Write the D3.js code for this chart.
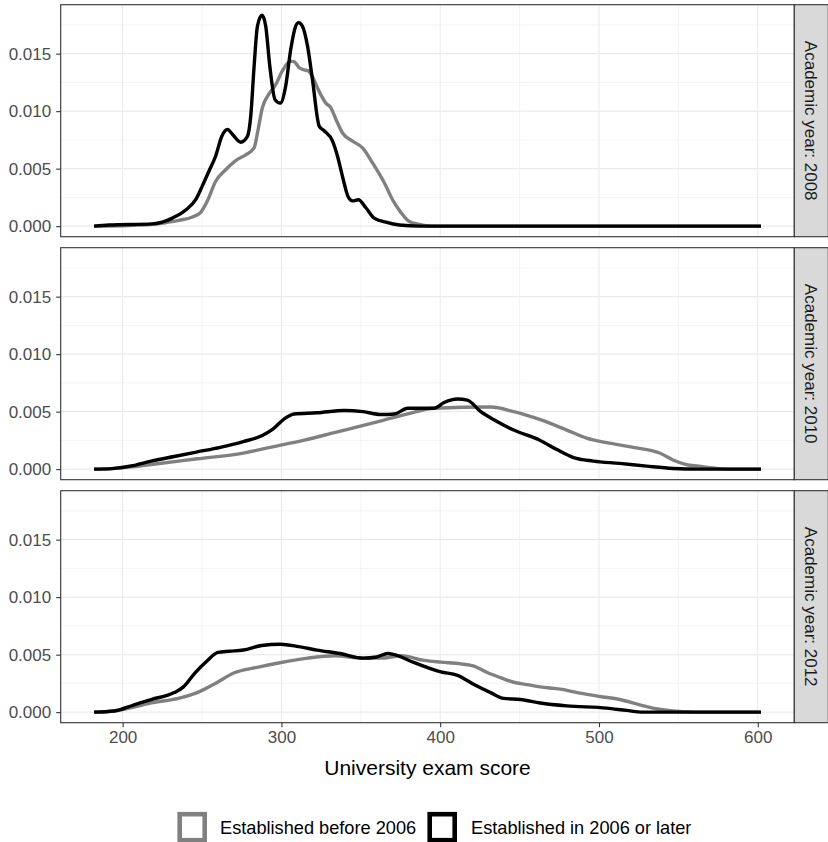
<!DOCTYPE html>
<html>
<head>
<meta charset="utf-8">
<script src="https://cdn.jsdelivr.net/npm/d3@7"></script>
<style>
  html, body { margin: 0; padding: 0; background: #fff; }
  svg { display: block; }
  text { font-family: "Liberation Sans", Arial, sans-serif; }
</style>
</head>
<body>
<div id="chart"></div>
<script>
// ---------------- DATA ----------------
const panelLabels = ["Academic year: 2008", "Academic year: 2010", "Academic year: 2012"];
const seriesNames = ["Established before 2006", "Established in 2006 or later"];
const xTicks = [200, 300, 400, 500, 600];
const xMinorTicks = [250, 350, 450, 550];
const yTicks = [0, 0.005, 0.010, 0.015];
const yMinorTicks = [0.0025, 0.0075, 0.0125, 0.0175];

// [score, density]
const before2008 = [[182,0],[200,0.00003],[218.7,0.00015],[227,0.0003],[235.5,0.0005],[244,0.0008],[249.2,0.0012],[253.4,0.0022],[258.6,0.0039],[264.9,0.0049],[271.2,0.0057],[277.5,0.0062],[282.8,0.0068],[284.9,0.0081],[288,0.0103],[292.2,0.0115],[296.4,0.0123],[300.6,0.0135],[305.6,0.01435],[308,0.0143],[311.1,0.0138],[314,0.0136],[317,0.0135],[319.5,0.013],[323.8,0.0117],[328,0.0107],[331.1,0.0103],[334.3,0.0093],[338.5,0.0081],[344.8,0.0074],[351.1,0.0068],[357.4,0.0055],[364.7,0.0038],[370,0.0023],[375.2,0.0012],[380.5,0.0004],[386.8,0.00015],[394,0],[602,0]];
const later2008 = [[182,0],[191.4,0.0001],[218.7,0.0002],[225,0.00035],[231.3,0.0007],[239.7,0.0014],[246,0.0023],[250.2,0.0035],[254.4,0.0048],[258.6,0.0061],[262.4,0.0078],[266,0.0084],[269.1,0.008],[274.4,0.0073],[278.6,0.0078],[280.7,0.0096],[282.8,0.0139],[284.9,0.0174],[287.8,0.01834],[290.1,0.0174],[292.7,0.0139],[296,0.011],[299.3,0.0107],[302.7,0.0122],[305.9,0.0154],[309,0.0174],[310.8,0.0177],[313.2,0.0174],[316.4,0.0157],[319.5,0.0128],[323.8,0.0087],[326.9,0.0083],[332.2,0.0074],[335.3,0.0061],[338.5,0.0043],[342.2,0.0025],[344.8,0.0022],[348.5,0.0023],[353.2,0.0016],[358.4,0.0007],[365.8,0.00035],[374.2,0.0001],[386.8,0],[602,0]];

const before2010 = [[182,0],[193,0.00005],[206,0.0002],[218,0.0004],[247,0.0009],[276,0.0014],[293,0.0019],[313.7,0.0025],[334,0.0032],[362.8,0.0042],[379.5,0.0048],[396,0.0053],[431.7,0.0054],[446.3,0.005],[463,0.0043],[479.7,0.0034],[492.2,0.0027],[504.8,0.0023],[521.5,0.0019],[538.2,0.0014],[546.6,0.0008],[555,0.0004],[563,0.00026],[572,0.0001],[582,0],[602,0]];
const later2010 = [[182,0],[193.3,0.00005],[206.4,0.0003],[218,0.0007],[232.5,0.0011],[247,0.0015],[261.5,0.0019],[276,0.0024],[287.6,0.0029],[294.8,0.0035],[302,0.0044],[308,0.0048],[322.4,0.0049],[339.8,0.0051],[351.4,0.005],[362.8,0.00475],[371.2,0.0048],[379.5,0.0053],[396.2,0.0053],[402.5,0.0058],[410.9,0.0061],[417.1,0.006],[425.5,0.005],[433.8,0.0043],[446.3,0.0034],[463,0.0025],[473.5,0.0017],[484,0.001],[496.5,0.0007],[513,0.0005],[530,0.00026],[546.6,0.00006],[563,0],[602,0]];

const before2012 = [[182,0],[195,0.0001],[206,0.0004],[218,0.0008],[235,0.0012],[247,0.0017],[258.4,0.0025],[270,0.0034],[284.7,0.0039],[299,0.0043],[316.6,0.0047],[334,0.0049],[351.4,0.0047],[362.8,0.0047],[375.4,0.0049],[390,0.0045],[400.4,0.00435],[413,0.0042],[421.3,0.004],[429.6,0.00345],[438,0.003],[446.3,0.0026],[454.7,0.0024],[463,0.0022],[475.6,0.002],[488,0.00165],[500.6,0.00136],[513,0.0011],[525.7,0.00064],[536,0.0003],[546.6,0.0001],[552.8,0.00005],[560,0],[602,0]];
const later2012 = [[182,0],[194.8,0.0001],[206.4,0.0006],[218,0.0011],[232.5,0.0017],[238.3,0.0022],[245.5,0.0034],[252.8,0.0044],[260,0.0052],[267.3,0.0053],[276,0.0054],[287.6,0.0058],[299.2,0.0059],[310.8,0.0057],[322.4,0.0054],[336.9,0.0051],[351.4,0.0047],[360,0.0048],[367,0.0051],[371.2,0.005],[383.7,0.0043],[400.4,0.0035],[410.9,0.0032],[421.3,0.0024],[431.7,0.0017],[440,0.0012],[450.5,0.0011],[463,0.0008],[479.7,0.00055],[504.8,0.00035],[517.3,0.00015],[527.7,0],[602,0]];

const panelData = [
  [before2008, later2008],
  [before2010, later2010],
  [before2012, later2012]
];
const seriesColors = ["#808080", "#000000"];

// ---------------- LAYOUT ----------------
const W = 828, H = 842;
const panelLeft = 60.7, panelRight = 794.3;
const panelTops = [4.7, 247.7, 490.7];
const panelH = 232;
const stripW = 34;

const svg = d3.select("#chart").append("svg")
  .attr("width", W).attr("height", H);

// shared scales
const allX = panelData.flat(2).map(d => d[0]);
const allY = panelData.flat(2).map(d => d[1]);
const xMin = d3.min(allX), xMax = d3.max(allX);
const xPad = (xMax - xMin) * 0.05;
const x = d3.scaleLinear().domain([xMin - xPad, xMax + xPad]).range([panelLeft, panelRight]);
const yMaxV = d3.max(allY);
const yPad = yMaxV * 0.05;

panelData.forEach((series, i) => {
  const top = panelTops[i];
  const y = d3.scaleLinear().domain([0 - yPad, yMaxV + yPad]).range([top + panelH, top]);
  const g = svg.append("g");

  g.append("rect").attr("x", panelLeft).attr("y", top)
    .attr("width", panelRight - panelLeft).attr("height", panelH).attr("fill", "#fff");

  // minor grid
  g.selectAll(".xminor").data(xMinorTicks).enter().append("line")
    .attr("x1", d => x(d)).attr("x2", d => x(d)).attr("y1", top).attr("y2", top + panelH)
    .attr("stroke", "#EBEBEB").attr("stroke-width", 0.6);
  g.selectAll(".yminor").data(yMinorTicks).enter().append("line")
    .attr("x1", panelLeft).attr("x2", panelRight).attr("y1", d => y(d)).attr("y2", d => y(d))
    .attr("stroke", "#EBEBEB").attr("stroke-width", 0.6);
  // major grid
  g.selectAll(".xmajor").data(xTicks).enter().append("line")
    .attr("x1", d => x(d)).attr("x2", d => x(d)).attr("y1", top).attr("y2", top + panelH)
    .attr("stroke", "#EBEBEB").attr("stroke-width", 1.1);
  g.selectAll(".ymajor").data(yTicks).enter().append("line")
    .attr("x1", panelLeft).attr("x2", panelRight).attr("y1", d => y(d)).attr("y2", d => y(d))
    .attr("stroke", "#EBEBEB").attr("stroke-width", 1.1);

  // lines
  const line = d3.line().x(d => x(d[0])).y(d => y(d[1])).curve(d3.curveMonotoneX);
  series.forEach((s, j) => {
    g.append("path").datum(s).attr("d", line)
      .attr("fill", "none").attr("stroke", seriesColors[j])
      .attr("stroke-width", 3.4).attr("stroke-linejoin", "round").attr("stroke-linecap", "butt");
  });

  // panel border
  g.append("rect").attr("x", panelLeft).attr("y", top)
    .attr("width", panelRight - panelLeft).attr("height", panelH)
    .attr("fill", "none").attr("stroke", "#333333").attr("stroke-width", 1.1);

  // y axis
  const yAxis = d3.axisLeft(y).tickValues(yTicks).tickFormat(d3.format(".3f")).tickSize(4.5).tickPadding(5);
  const ya = g.append("g").attr("transform", `translate(${panelLeft},0)`).call(yAxis);
  ya.select(".domain").remove();
  ya.selectAll(".tick line").attr("stroke", "#333333").attr("stroke-width", 1.1);
  ya.selectAll(".tick text").attr("fill", "#4D4D4D").style("font-size", "17px")
    .style("font-family", '"Liberation Sans", Arial, sans-serif');

  // strip
  g.append("rect").attr("x", panelRight).attr("y", top)
    .attr("width", stripW).attr("height", panelH)
    .attr("fill", "#D9D9D9").attr("stroke", "#333333").attr("stroke-width", 1.1);
  g.append("text")
    .attr("transform", `translate(${panelRight + stripW / 2},${top + panelH / 2}) rotate(90)`)
    .attr("text-anchor", "middle").attr("dy", "0.35em")
    .attr("fill", "#1A1A1A").style("font-size", "17px")
    .text(panelLabels[i]);

  if (i === panelData.length - 1) {
    const xAxis = d3.axisBottom(x).tickValues(xTicks).tickFormat(d3.format("d")).tickSize(4.5).tickPadding(4);
    const xa = g.append("g").attr("transform", `translate(0,${top + panelH})`).call(xAxis);
    xa.select(".domain").remove();
    xa.selectAll(".tick line").attr("stroke", "#333333").attr("stroke-width", 1.1);
    xa.selectAll(".tick text").attr("fill", "#4D4D4D").style("font-size", "17px")
      .style("font-family", '"Liberation Sans", Arial, sans-serif');
  }
});

// x axis title
svg.append("text")
  .attr("x", (panelLeft + panelRight) / 2).attr("y", 775)
  .attr("text-anchor", "middle").attr("fill", "#000")
  .style("font-size", "21px")
  .text("University exam score");

// legend
const legendItems = [
  { name: seriesNames[0], color: seriesColors[0], boxX: 179.7, textX: 220 },
  { name: seriesNames[1], color: seriesColors[1], boxX: 429.7, textX: 471 }
];
const lg = svg.append("g");
legendItems.forEach(it => {
  lg.append("rect").attr("x", it.boxX).attr("y", 814.2).attr("width", 25).attr("height", 26)
    .attr("fill", "#fff").attr("stroke", it.color).attr("stroke-width", 4.6);
  lg.append("text").attr("x", it.textX).attr("y", 833.5)
    .attr("fill", "#000").style("font-size", "18.2px").text(it.name);
});
</script>
</body>
</html>
